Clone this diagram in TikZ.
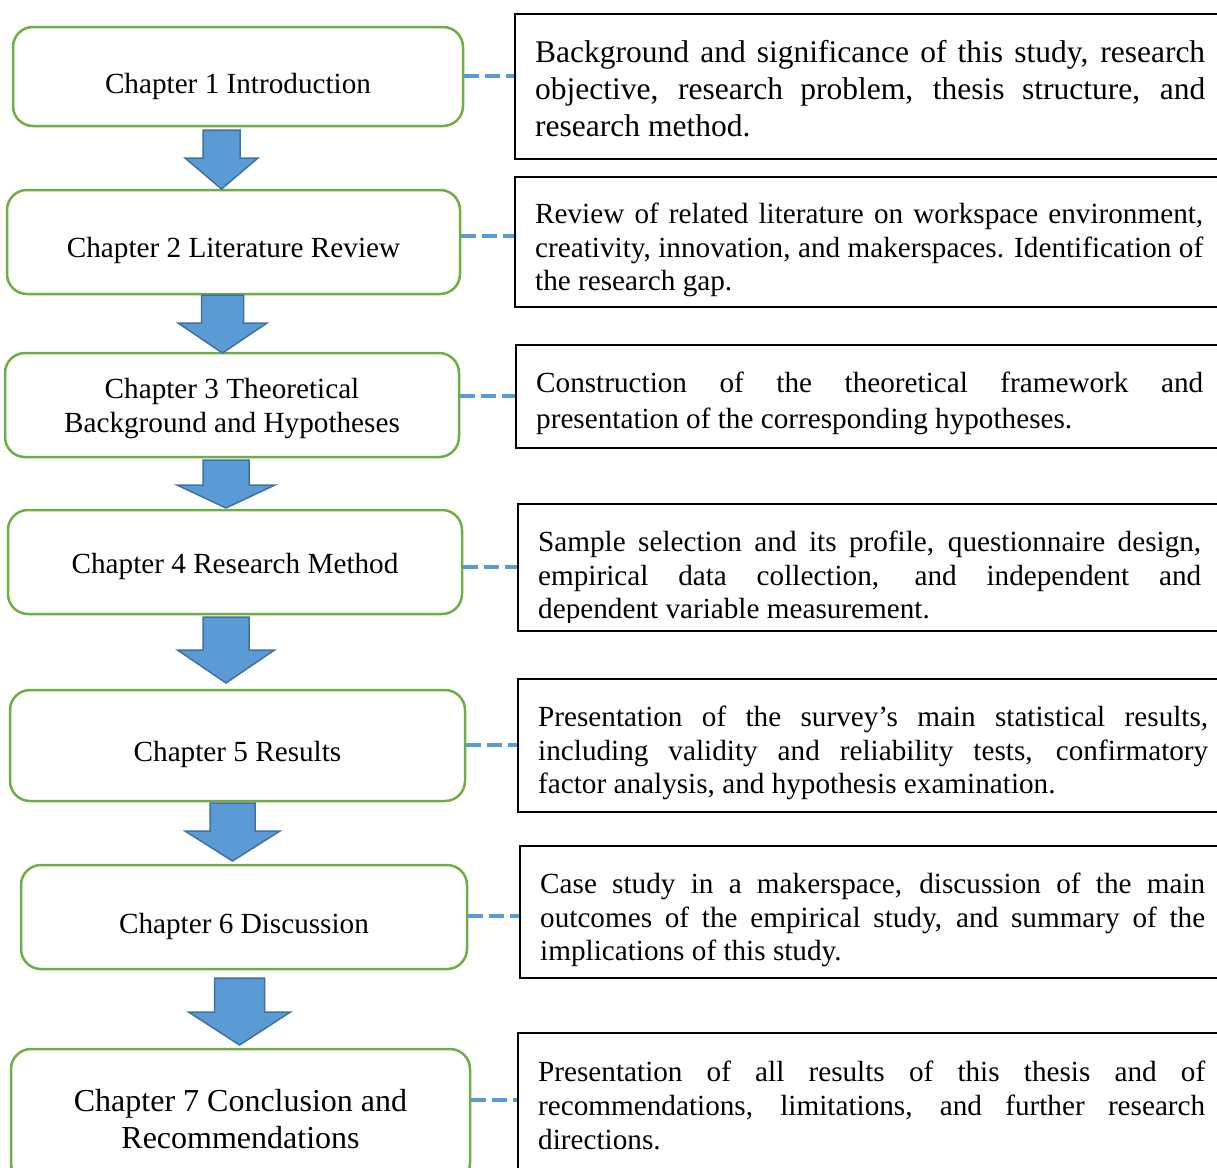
\documentclass[tikz,border=0pt]{standalone}
\usepackage{fontspec}
\setmainfont{Liberation Serif}
\definecolor{chapgreen}{HTML}{70AD47}
\definecolor{linkblue}{HTML}{5B9BD5}
\definecolor{arrowfill}{HTML}{5B9BD5}
\definecolor{arrowedge}{HTML}{41719C}

% one justified line of a description, stretched to the given width
\newcommand{\jline}[2]{\makebox[#1][s]{#2}}
% block arrow pointing down: centre x, top, head base, tip, shaft half width, head half width
\newcommand{\blockdown}[6]{%
  \draw[blockarrow] (#1-#5,#2) -- (#1+#5,#2) -- (#1+#5,#3) -- (#1+#6,#3)
    -- (#1,#4) -- (#1-#6,#3) -- (#1-#5,#3) -- cycle;}

\tikzset{
  chapbox/.style={draw=chapgreen, line width=2.5pt, rounded corners=20pt,
    fill=white, inner sep=0pt},
  chaptext/.style={align=center, inner sep=0pt,
    font=\fontsize{29.2}{34}\selectfont},
  descbox/.style={draw=black, line width=1.5pt, anchor=north west,
    inner sep=0pt, minimum width=760},
  desctext/.style={anchor=west, align=left, inner sep=0pt,
    font=\fontsize{29.2}{33.8}\selectfont},
  dashlink/.style={draw=linkblue, line width=4.6pt, dash pattern=on 15pt off 6pt},
  blockarrow/.style={fill=arrowfill, draw=arrowedge, line width=1.5pt, line join=miter},
}

\begin{document}
\begin{tikzpicture}[x=1pt,y=-1pt]
\useasboundingbox (0,0) rectangle (1217,1167);
\clip (0,0) rectangle (1217,1167);

% chapter boxes
\node[chapbox, minimum width=450, minimum height=99]  (L1) at (238,76.5)    {};
\node[chapbox, minimum width=453, minimum height=104] (L2) at (233.5,242)   {};
\node[chapbox, minimum width=454, minimum height=104] (L3) at (232,405)     {};
\node[chapbox, minimum width=454, minimum height=104] (L4) at (235,562)     {};
\node[chapbox, minimum width=455, minimum height=111] (L5) at (237.5,745.5) {};
\node[chapbox, minimum width=446, minimum height=104] (L6) at (244,917)     {};
\node[chapbox, minimum width=459, minimum height=134] (L7) at (240.5,1116)  {};

% chapter titles
\node[chaptext] (L1t) at ([yshift=-10pt]L1.center) {Chapter 1 Introduction};
\node[chaptext] (L2t) at ([yshift=-8pt]L2.center)  {Chapter 2 Literature Review};
\node[chaptext] (L3t) at ([yshift=-4pt]L3.center)  {Chapter 3 Theoretical\\Background and Hypotheses};
\node[chaptext] (L4t) at ([yshift=-4pt]L4.center)  {Chapter 4 Research Method};
\node[chaptext] (L5t) at ([yshift=-9pt]L5.center)  {Chapter 5 Results};
\node[chaptext] (L6t) at ([yshift=-9pt]L6.center)  {Chapter 6 Discussion};
\node[chaptext, font=\fontsize{32}{37}\selectfont]
      (L7t) at ([yshift=-3pt]L7.center) {Chapter 7 Conclusion and\\Recommendations};

% arrows between chapters
\blockdown{221.5}{130}{158}{189}{18.5}{36.5}
\blockdown{222.5}{295}{323}{353}{21}{44.5}
\blockdown{226}{460}{485}{508}{23}{49}
\blockdown{226}{617}{650}{683}{23}{48.5}
\blockdown{232.5}{803}{831}{861}{22.5}{47.5}
\blockdown{239.5}{978}{1012}{1045}{25}{51}

% description boxes
\node[descbox, minimum height=145] (R1) at (514,13)   {};
\node[descbox, minimum height=130] (R2) at (514,176)  {};
\node[descbox, minimum height=103] (R3) at (515,344)  {};
\node[descbox, minimum height=127] (R4) at (517,503)  {};
\node[descbox, minimum height=133] (R5) at (517,678)  {};
\node[descbox, minimum height=132] (R6) at (519,845)  {};
\node[descbox, minimum height=170] (R7) at (517,1032) {};

% description texts
\node[desctext, font=\fontsize{31.5}{37}\selectfont] (T1) at (535,89) {%
  \jline{670pt}{Background and significance of this study, research}\\
  \jline{670pt}{objective, research problem, thesis structure, and}\\
  research method.};
\node[desctext] (T2) at (535,250) {%
  \jline{668pt}{Review of related literature on workspace environment,}\\
  \jline{668pt}{creativity, innovation, and makerspaces. Identification of}\\
  the research gap.};
\node[desctext, font=\fontsize{29.2}{36}\selectfont] (T3) at (536,403.5) {%
  \jline{667pt}{Construction of the theoretical framework and}\\
  presentation of the corresponding hypotheses.};
\begin{scope}
  \clip (517,503) rectangle (1217,622);
  \node[desctext] (T4) at (538,578) {%
    \jline{663pt}{Sample selection and its profile, questionnaire design,}\\
    \jline{663pt}{empirical data collection, and independent and}\\
    dependent variable measurement.};
\end{scope}
\node[desctext] (T5) at (538,753) {%
  \jline{670pt}{Presentation of the survey’s main statistical results,}\\
  \jline{670pt}{including validity and reliability tests, confirmatory}\\
  factor analysis, and hypothesis examination.};
\node[desctext] (T6) at (540,920) {%
  \jline{665pt}{Case study in a makerspace, discussion of the main}\\
  \jline{665pt}{outcomes of the empirical study, and summary of the}\\
  implications of this study.};
\node[desctext] (T7) at (538,1105.5) {%
  \jline{667pt}{Presentation of all results of this thesis and of}\\
  \jline{667pt}{recommendations, limitations, and further research}\\
  directions.};

% dashed links from chapters to descriptions
\coordinate (d1) at (0,76);
\coordinate (d2) at (0,236);
\coordinate (d3) at (0,396);
\coordinate (d4) at (0,567);
\coordinate (d5) at (0,745);
\coordinate (d6) at (0,916);
\coordinate (d7) at (0,1100);
\draw[dashlink] (L1.east |- d1) -- (R1.west |- d1);
\draw[dashlink] (L2.east |- d2) -- (R2.west |- d2);
\draw[dashlink] (L3.east |- d3) -- (R3.west |- d3);
\draw[dashlink] (L4.east |- d4) -- (R4.west |- d4);
\draw[dashlink] (L5.east |- d5) -- (R5.west |- d5);
\draw[dashlink] (L6.east |- d6) -- (R6.west |- d6);
\draw[dashlink] (L7.east |- d7) -- (R7.west |- d7);
\end{tikzpicture}
\end{document}
